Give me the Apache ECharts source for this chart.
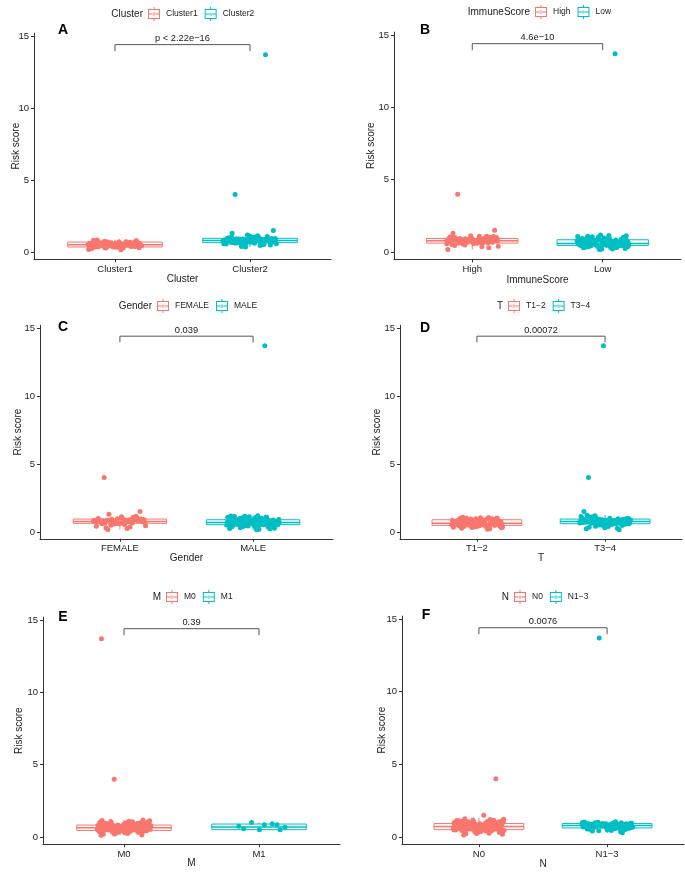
<!DOCTYPE html>
<html>
<head>
<meta charset="utf-8">
<script src="https://cdn.jsdelivr.net/npm/echarts@6/dist/echarts.min.js"></script>
<style>html,body{margin:0;padding:0;background:#fff}#c{width:685px;height:872px}</style>
</head>
<body>
<div id="c"></div>
<script>
// ---------- data ----------
const panelLetters = ['A','B','C','D','E','F'];
const factorNames = ['Cluster','ImmuneScore','Gender','T','M','N'];
const groupLabels = [['Cluster1','Cluster2'],['High','Low'],['FEMALE','MALE'],['T1\u22122','T3\u22124'],['M0','M1'],['N0','N1\u22123']];
const pValues = ['p < 2.22e\u221216','4.6e\u221210','0.039','0.00072','0.39','0.0076'];
const yTicks = [0,5,10,15];

// box statistics per panel: [lower whisker, Q1, median, Q3, upper whisker]
const boxA = [[0.15,0.35,0.50,0.69,0.85],[0.35,0.65,0.80,0.95,1.20]];
const boxB = [[0.18,0.62,0.78,0.94,1.15],[0.15,0.46,0.60,0.85,1.20]];
const boxC = [[0.18,0.64,0.78,0.95,1.20],[0.15,0.54,0.70,0.90,1.20]];
const boxD = [[0.20,0.49,0.65,0.90,1.10],[0.17,0.61,0.78,0.95,1.25]];
const boxE = [[0.12,0.46,0.65,0.83,1.20],[0.50,0.51,0.69,0.90,1.00]];
const boxF = [[0.14,0.50,0.72,0.92,1.30],[0.28,0.62,0.78,0.92,1.05]];

// risk scores (jittered points)
const cluster1 = [0.52,0.41,0.63,0.47,0.35,0.58,0.72,0.44,0.29,0.55,0.66,0.38,0.49,0.61,0.27,0.53,0.78,0.42,0.36,0.57,0.69,0.45,0.31,0.50,0.64,0.40,0.24,0.59,0.74,0.47,0.33,0.54,0.68,0.43,0.18,0.51,0.62,0.39,0.56,0.81,0.46,0.30,0.60,0.71,0.37,0.48,0.65,0.22,0.53,0.41,0.76,0.58,0.34,0.49,0.67,0.44,0.15,0.55,0.63,0.39,0.52,0.70,0.28,0.46,0.59,0.84,0.42,0.57,0.35,0.50];
const cluster2 = [0.91,0.58,1.05,4.0,0.82,0.71,0.95,0.64,0.88,1.5,0.77,1.3,13.7,0.69,0.84,1.12,0.73,0.49,0.86,0.99,0.66,0.80,0.93,0.61,0.75,1.08,0.83,0.55,0.90,0.70,0.79,1.02,0.67,0.87,0.42,0.76,0.96,0.63,0.81,1.15,0.72,0.89,0.59,0.78,1.00,0.68,0.85,0.35,0.74,0.94,0.65,0.82,1.06,0.71,0.52,0.88,0.79,0.97,0.62,0.84,1.18,0.76,0.45,0.90,0.69,0.81,1.03,0.73,0.86,0.57,0.80,0.92,0.66,1.10,0.77,0.83,0.39,0.75,0.98,0.70,0.87,0.60,0.82,1.01,0.74,0.93,0.68,0.79,0.54,0.85];
const immuneHigh = [1.3,0.97,0.92,0.79,0.65,4.0,0.71,0.86,1.04,0.58,0.83,1.5,0.74,0.45,0.89,0.68,0.81,1.10,0.62,0.77,0.95,0.52,0.85,0.73,1.01,0.66,0.88,0.30,0.80,0.93,0.70,0.76,1.07,0.60,0.84,0.98,0.72,0.41,0.87,0.64,0.79,1.13,0.69,0.91,0.55,0.82,0.75,0.99,0.63,0.86,0.18,0.78,0.94,0.67,0.83,1.05,0.73,0.48,0.90,0.61,0.80,1.02,0.76,0.88,0.36,0.71,0.96,0.65,0.84,1.09,0.77,0.57,0.92,0.70,0.81];
const immuneLow = [0.48,0.61,13.7,0.82,0.37,0.69,0.95,0.53,0.27,0.74,0.58,1.06,0.44,0.88,0.65,0.32,0.51,0.79,0.99,0.41,0.63,0.20,0.86,0.56,0.72,1.12,0.47,0.35,0.67,0.91,0.54,0.77,0.43,1.02,0.60,0.29,0.83,0.50,0.70,0.96,0.39,0.57,1.18,0.46,0.75,0.62,0.24,0.89,0.52,0.68,0.38,1.08,0.59,0.81,0.45,0.66,0.93,0.33,0.55,0.73,0.49,1.00,0.64,0.17,0.85,0.42,0.71,0.58,0.97,0.36,0.60,0.78,0.47,1.14,0.53,0.87,0.40,0.69,0.26,0.62,0.92,0.50,0.76,0.44,1.04,0.57,0.31,0.80,0.65,0.48,0.90,0.54,0.72,0.39,0.61,1.10,0.46,0.84,0.58,0.22];
const female = [0.87,1.5,0.63,0.80,0.66,0.93,0.72,0.55,4.0,1.05,0.76,0.42,0.90,1.3,0.84,1.12,0.69,0.97,0.58,0.81,0.74,0.30,0.88,0.65,1.00,0.78,0.50,0.92,0.70,0.83,1.16,0.61,0.86,0.75,0.18,0.95,0.67,0.79,1.08,0.73,0.46,0.89,0.64,0.82,0.98,0.71,0.36,0.85,0.77,1.02,0.60,0.91,0.68,0.80,0.25];
const male = [0.77,0.71,0.56,0.88,0.43,13.7,1.02,0.62,0.35,0.83,0.67,1.12,0.50,0.93,0.74,0.28,0.59,0.86,1.06,0.47,0.70,0.20,0.91,0.64,0.79,1.17,0.53,0.40,0.75,0.97,0.61,0.84,0.45,1.09,0.68,0.32,0.89,0.57,0.78,1.00,0.49,0.65,1.20,0.55,0.82,0.72,0.25,0.94,0.60,0.76,0.42,1.14,0.66,0.87,0.52,0.73,0.98,0.38,0.63,0.81,0.58,1.04,0.69,0.16,0.90,0.48,0.77,0.64,1.01,0.44,0.70,0.85,0.54,1.10,0.61,0.92,0.46,0.75,0.30,0.68,0.95,0.57,0.80,0.51,1.07,0.66,0.36,0.86,0.72,0.55,0.96,0.62,0.79,0.41,0.69,1.15,0.53,0.88,0.65,0.23,0.74,0.83,0.59,1.03,0.47,0.71];
const t12 = [0.66,0.52,0.87,0.41,0.73,0.98,0.57,0.30,0.81,0.62,1.05,0.47,0.92,0.69,0.35,0.55,0.84,1.01,0.44,0.64,0.24,0.89,0.59,0.76,1.09,0.50,0.38,0.71,0.95,0.58,0.80,0.46,0.99,0.63,0.33,0.86,0.53,0.74,0.93,0.42,0.61,1.07,0.49,0.78,0.67,0.27,0.90,0.56,0.70,0.40,1.03,0.60,0.83,0.48,0.68,0.96,0.36,0.54,0.77,0.51,0.94,0.65,0.21,0.88,0.45,0.72,0.57,0.97,0.39,0.64,0.82,0.50,1.02,0.58,0.85,0.43,0.75,0.31,0.62,0.91];
const t34 = [0.71,0.52,0.89,0.79,0.64,0.93,13.7,1.5,0.86,1.06,0.75,0.40,4.0,0.62,0.83,1.14,0.68,0.96,0.57,0.81,0.73,0.28,0.88,0.66,1.01,0.77,0.48,0.91,0.70,0.84,1.20,0.60,0.87,0.74,0.17,0.94,0.67,0.80,1.10,0.72,0.45,0.90,0.63,0.82,0.99,0.69,0.35,0.85,0.76,1.03,0.58,0.92,0.65,0.78,0.24,0.97,0.71,0.86,0.54,1.08,0.74,0.62,0.89,0.80,0.42,0.95,0.68,1.16,0.77,0.59,0.83,0.70,1.00,0.66,0.31,0.88,0.75,0.93,0.61,0.81,1.04,0.72,0.50,0.87,0.78,0.64,0.98,0.73,1.23,0.69];
const m0 = [0.29,0.62,0.66,0.51,0.80,0.40,0.72,0.95,0.57,13.7,0.77,4.0,1.04,0.46,0.86,0.68,0.34,0.54,0.81,0.99,0.43,0.64,0.19,0.84,0.59,0.74,1.10,0.49,0.37,0.70,0.90,0.56,0.79,0.44,0.97,0.63,0.31,0.83,0.52,0.73,0.92,0.41,0.60,1.15,0.47,0.76,0.65,0.24,0.88,0.55,0.69,0.39,1.06,0.61,0.82,0.48,0.67,0.94,0.35,0.53,0.78,0.50,1.01,0.64,0.12,0.85,0.45,0.71,0.58,0.96,0.38,0.62,0.80,0.47,1.08,0.56,0.87,0.42,0.74,0.27,0.65,0.91,0.53,0.77,0.44,1.02,0.60,0.33,0.82,0.68,0.49,0.93,0.57,0.75,0.40,0.63,1.18,0.46,0.84,0.59,0.21,0.72,0.79,0.55,0.98,0.43,0.70,0.66,0.52,0.89,0.36,0.61,0.76,0.48,1.12,0.58,0.81,0.15,0.69,0.54];
const m1 = [0.50,0.50,0.74,0.92,1.00,0.67,0.85,0.57,0.85];
const n0 = [0.85,0.63,0.73,0.57,0.89,0.46,0.79,1.04,1.5,0.34,4.0,0.68,1.13,0.52,0.94,0.75,0.38,0.60,0.88,1.08,0.49,0.71,0.22,0.92,0.65,0.82,1.20,0.55,0.42,0.77,0.99,0.62,0.86,0.48,1.06,0.70,0.30,0.90,0.58,0.80,1.01,0.45,0.66,1.26,0.53,0.83,0.72,0.26,0.96,0.61,0.76,0.44,1.15,0.67,0.87,0.51,0.74,1.03,0.39,0.59,0.84,0.56,1.10,0.69,0.14,0.93,0.47,0.78,0.64,1.05,0.41,0.70,0.88,0.52,1.17,0.62,0.95,0.46,0.81,0.32,0.73,0.98,0.58,0.84,0.50,1.09,0.66,0.36,0.90,0.75,0.54,1.00,0.63,0.82,0.43,0.71,1.22,0.49,0.91,0.65,0.24,0.78,0.86,0.60,1.07,0.48,0.77,0.72,0.55,0.97,0.40,0.68,0.83,0.53,1.12,0.64,0.87,0.18,0.76,0.61];
const n13 = [0.99,0.79,0.66,0.90,0.72,0.55,0.86,13.7,0.75,0.45,0.88,0.63,0.82,1.03,0.69,0.94,0.58,0.80,0.74,0.35,0.87,0.67,0.96,0.77,0.51,0.91,0.70,0.84,1.01,0.61,0.85,0.76,0.28,0.93,0.68,0.80,0.98,0.73,0.48,0.89,0.64,0.83,0.95,0.71,0.40,0.86,0.78,1.00,0.60,0.92,0.66,0.81,0.53,0.97,0.74,0.87,0.57,0.90,0.79,0.65,0.85,0.72,0.43,0.94,0.69,0.82,0.62,0.88,0.76,1.04,0.70,0.84,0.59,0.91,0.77];

// ---------- assembly ----------
const boxes = [boxA, boxB, boxC, boxD, boxE, boxF];
const points = [[cluster1, cluster2],[immuneHigh, immuneLow],[female, male],[t12, t34],[m0, m1],[n0, n13]];
const colors = ['#F8766D', '#00BFC4'];
const FONT = '"Liberation Sans", Arial, Helvetica, sans-serif';

const layouts = [
  {left:34,  top:33.1,  width:297, height:226.1, letter:[63,30],  legendX:148, legendY:14,  yGap:13,   xGap:15},
  {left:394, top:32.1,  width:287, height:227.2, letter:[425,30], legendX:535, legendY:12,  yGap:18,   xGap:16},
  {left:40,  top:325.3, width:293, height:213.5, letter:[63,327], legendX:157, legendY:306, yGap:16.5, xGap:14},
  {left:400, top:325.3, width:282, height:213.5, letter:[425,328],legendX:508, legendY:306, yGap:18,   xGap:14},
  {left:43,  top:617.1, width:297, height:227.2, letter:[63,617], legendX:166, legendY:597, yGap:19,   xGap:14},
  {left:402, top:616.1, width:282, height:228.1, letter:[426,615],legendX:514, legendY:597, yGap:15,   xGap:15}
];

const boxIcon = 'path://M1 2H13V12H1Z M2 3V11H12V3Z M2 6.5H12V7.5H2Z M6.5 0H7.5V2.5H6.5Z M6.5 11.5H7.5V14H6.5Z M5.4 7A1.6 1.6 0 1 0 8.6 7A1.6 1.6 0 1 0 5.4 7Z';

// deterministic horizontal jitter (display only)
function jitter(k, g, i) {
  const t = (k * 0.6180339887 + g * 0.37 + i * 0.13) % 1;
  return (t - 0.5) * 0.4;
}

const grid = [], xAxis = [], yAxis = [], series = [], legend = [], graphic = [];
layouts.forEach((l, i) => {
  grid.push({left:l.left, top:l.top, width:l.width, height:l.height, containLabel:false, outerBoundsMode:'none'});
  xAxis.push({
    gridIndex:i, type:'value', min:0.4, max:2.6,
    name: factorNames[i], nameLocation:'middle', nameGap:l.xGap, nameMoveOverlap:false,
    nameTextStyle:{fontSize:10, color:'#222', fontFamily:FONT},
    axisLine:{show:true, onZero:false, lineStyle:{color:'#333', width:1}},
    axisTick:{show:true, length:3, customValues:[1,2], lineStyle:{color:'#333', width:1}},
    axisLabel:{customValues:[1,2], margin:5, fontSize:9.5, color:'#222', fontFamily:FONT,
      formatter: v => groupLabels[i][Math.round(v) - 1]},
    splitLine:{show:false}
  });
  yAxis.push({
    gridIndex:i, type:'value', min:-0.5, max:15.2,
    name:'Risk score', nameLocation:'middle', nameGap:l.yGap, nameMoveOverlap:false,
    nameTextStyle:{fontSize:10, color:'#222', fontFamily:FONT},
    axisLine:{show:true, onZero:false, lineStyle:{color:'#333', width:1}},
    axisTick:{show:true, length:3, customValues:yTicks, lineStyle:{color:'#333', width:1}},
    axisLabel:{customValues:yTicks, margin:5, fontSize:9.5, color:'#222', fontFamily:FONT},
    splitLine:{show:false}
  });
  // boxes
  series.push({
    type:'custom', xAxisIndex:i, yAxisIndex:i, silent:true, z:1,
    data: boxes[i].map((b, g) => [g + 1].concat(b).concat([g])),
    renderItem: (params, api) => {
      const x = api.value(0), lo = api.value(1), q1 = api.value(2), med = api.value(3), q3 = api.value(4), hi = api.value(5);
      const c = colors[api.value(6)];
      const hw = 0.35;
      const tl = api.coord([x - hw, q3]), br = api.coord([x + hw, q1]);
      const ml = api.coord([x - hw, med]), mr = api.coord([x + hw, med]);
      const wTop = api.coord([x, hi]), wQ3 = api.coord([x, q3]), wQ1 = api.coord([x, q1]), wBot = api.coord([x, lo]);
      return {type:'group', children:[
        {type:'line', shape:{x1:wTop[0], y1:wTop[1], x2:wQ3[0], y2:wQ3[1]}, style:{stroke:c, lineWidth:1}},
        {type:'line', shape:{x1:wQ1[0], y1:wQ1[1], x2:wBot[0], y2:wBot[1]}, style:{stroke:c, lineWidth:1}},
        {type:'rect', shape:{x:tl[0], y:tl[1], width:br[0]-tl[0], height:br[1]-tl[1]}, style:{fill:'#fff', stroke:c, lineWidth:1}},
        {type:'line', shape:{x1:ml[0], y1:ml[1], x2:mr[0], y2:mr[1]}, style:{stroke:c, lineWidth:1.5}}
      ]};
    }
  });
  // jittered points
  points[i].forEach((vals, g) => {
    series.push({
      type:'scatter', name: groupLabels[i][g], xAxisIndex:i, yAxisIndex:i, z:2,
      symbol:'circle', symbolSize:5,
      itemStyle:{color: colors[g], opacity:1},
      data: vals.map((v, k) => [g + 1 + jitter(k, g, i), v])
    });
  });
  // significance bracket
  series.push({
    type:'custom', xAxisIndex:i, yAxisIndex:i, silent:true, z:3,
    data:[[1, 2, 13.95, 14.4]],
    renderItem: (params, api) => {
      const x1 = api.value(0), x2 = api.value(1), yl = api.value(2), yt = api.value(3);
      const a = api.coord([x1, yl]), b = api.coord([x1, yt]), c = api.coord([x2, yt]), d = api.coord([x2, yl]);
      const m = api.coord([(x1 + x2) / 2, yt]);
      return {type:'group', children:[
        {type:'polyline', shape:{points:[a, b, c, d]}, style:{stroke:'#555', fill:null, lineWidth:1}},
        {type:'text', x:m[0], y:m[1] - 1.5, style:{text:pValues[i], align:'center', verticalAlign:'bottom', font:'9.3px ' + FONT, fill:'#222'}}
      ]};
    }
  });
  legend.push({
    data: groupLabels[i].map(n => ({name:n, icon:boxIcon})),
    left: l.legendX, top: l.legendY - 7, orient:'horizontal', padding:0,
    itemWidth:14, itemHeight:14, itemGap:7, selectedMode:false,
    textStyle:{fontSize:8.5, color:'#222', fontFamily:FONT}
  });
  graphic.push({type:'text', x:l.legendX - 5, y:l.legendY, silent:true,
    style:{text: factorNames[i], align:'right', verticalAlign:'middle', font:'10px ' + FONT, fill:'#222'}});
  graphic.push({type:'text', x:l.letter[0], y:l.letter[1], silent:true,
    style:{text: panelLetters[i], align:'center', verticalAlign:'middle', font:'bold 14px ' + FONT, fill:'#000'}});
});

const chart = echarts.init(document.getElementById('c'), null, {renderer:'canvas'});
chart.setOption({
  animation:false,
  backgroundColor:'#fff',
  textStyle:{fontFamily:FONT},
  grid, xAxis, yAxis, series, legend, graphic
});
</script>
</body>
</html>
